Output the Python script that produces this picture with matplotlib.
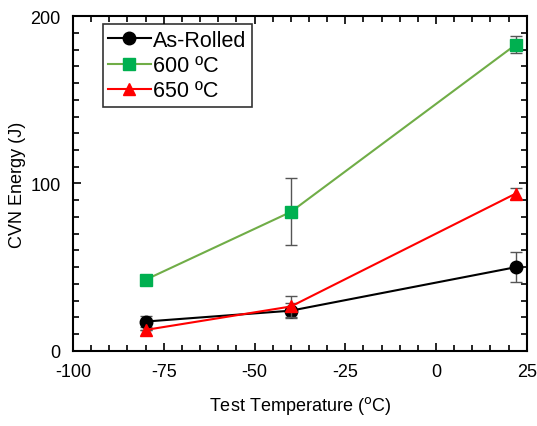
import matplotlib.pyplot as plt
from matplotlib.ticker import MultipleLocator
from matplotlib.lines import Line2D

plt.rcParams['font.family'] = ['Liberation Sans', 'DejaVu Sans']
plt.rcParams['axes.unicode_minus'] = False

# dados
temps = [-80, -40, 22]
as_rolled = [17.5, 24, 50]
as_rolled_err = [3.5, 4.5, 9]
t600 = [42.5, 83, 183]
t600_err = [0, 20, 5]
t650 = [12.5, 26.5, 94]
t650_err = [0, 6, 3]

fig = plt.figure(figsize=(5.37, 4.27), dpi=100)
ax = fig.add_axes([0.136, 0.176, 0.845, 0.784])

ax.errorbar(temps, as_rolled, yerr=as_rolled_err, color='black', marker='o', markersize=9,
            lw=1.5, ecolor='#555555', elinewidth=1, capsize=4, zorder=3)
ax.errorbar(temps, t600, yerr=t600_err, color='#70AD47', marker='s', markersize=9,
            mfc='#00B050', mec='#00B050', lw=1.5, ecolor='#555555', elinewidth=1, capsize=4,
            zorder=2)
ax.errorbar(temps, t650, yerr=t650_err, color='#FF0000', marker='^', markersize=9,
            lw=1.5, ecolor='#555555', elinewidth=1, capsize=4, zorder=4)

ax.set_xlim(-100, 25)
ax.set_ylim(0, 200)
ax.xaxis.set_major_locator(MultipleLocator(25))
ax.xaxis.set_minor_locator(MultipleLocator(5))
ax.yaxis.set_major_locator(MultipleLocator(100))
ax.yaxis.set_minor_locator(MultipleLocator(10))
ax.tick_params(which='both', direction='in', top=True, right=True, labelsize=13, width=1.2)
ax.tick_params(which='major', length=6, pad=9)
ax.tick_params(which='minor', length=4)
for s in ax.spines.values():
    s.set_linewidth(1.5)

ax.set_xlabel('Test Temperature ($^{\\rm o}$C)', fontsize=13, labelpad=10)
ax.set_ylabel('CVN Energy (J)', fontsize=13, labelpad=3)

# legenda sem barras de erro
handles = [
    Line2D([], [], color='black', marker='o', markersize=9, lw=1.5),
    Line2D([], [], color='#70AD47', marker='s', markersize=9, mfc='#00B050', mec='#00B050', lw=1.5),
    Line2D([], [], color='#FF0000', marker='^', markersize=9, lw=1.5),
]
leg = ax.legend(handles, ['As-Rolled', '600 ºC', '650 ºC'], loc='upper left',
                bbox_to_anchor=(0.065, 0.975), fontsize=15.5, frameon=True,
                fancybox=False, edgecolor='black', handlelength=2.0, handletextpad=0.1,
                borderpad=0.25, labelspacing=0.2, borderaxespad=0)
leg.get_frame().set_linewidth(1.2)

fig.savefig('out.png', dpi=100)
